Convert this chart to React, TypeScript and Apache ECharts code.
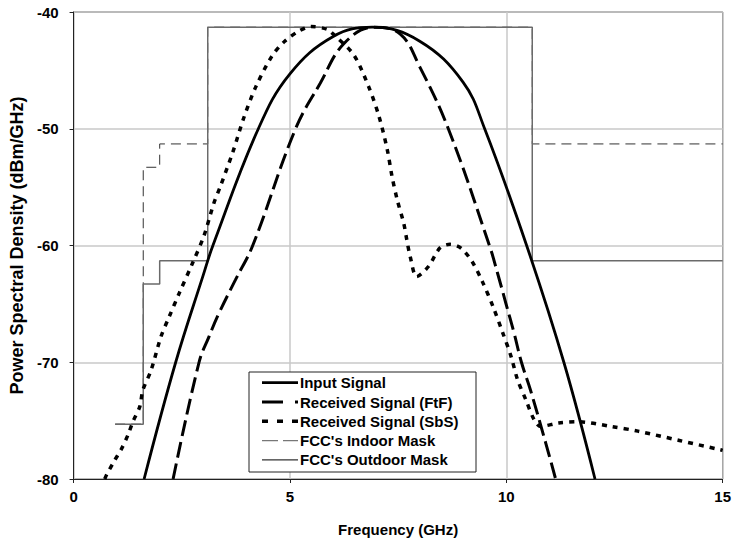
import React, { useEffect, useRef } from "react";
import * as echarts from "echarts";

const xTicks = [0, 5, 10, 15];
const yTicks = [-80, -70, -60, -50, -40];

const inputFreq = [1.63, 2.36, 3.0, 3.22, 4.27, 5.0, 6.0, 6.9, 8.0, 9.0, 9.5, 10.47, 11.33, 12.05];
const inputLevel = [-80, -70, -62.5, -60, -50, -45.3, -42.1, -41.3, -42.5, -46.0, -50, -60, -70, -80];

const ftfFreq = [2.3, 2.9, 3.13, 3.36, 3.74, 4.14, 5.13, 5.7, 6.25, 6.94, 7.55, 8.0, 8.66, 9.61, 9.8, 9.99, 10.18, 10.35, 10.56, 10.91, 11.14];
const ftfLevel = [-80, -70, -67.8, -65.8, -62.95, -60, -50, -46.1, -42.7, -41.3, -41.9, -44.7, -50, -60, -62.4, -64.95, -67.5, -70, -72.4, -76.9, -80];

const sbsFreq = [0.72, 0.76, 0.95, 1.11, 1.26, 1.37, 1.53, 1.6, 1.79, 2.02, 2.21, 2.44, 2.75, 3.01, 3.24, 3.39, 3.68, 3.93, 4.2, 4.58, 4.88, 5.22, 5.49, 5.87, 6.03, 6.48, 6.83, 7.06, 7.25, 7.36, 7.48, 7.63, 7.7, 7.78, 7.93, 8.2, 8.47, 8.7, 8.96, 9.23, 9.46, 9.69, 9.92, 10.11, 10.26, 10.45, 10.64, 10.79, 11.21, 11.67, 12.43, 13.04, 14.0, 14.95, 15];
const sbsLevel = [-80, -79.66, -78.4, -77.4, -76.2, -75.1, -73.8, -72.4, -70.7, -67.8, -66.1, -64.1, -61.5, -59.2, -56.4, -54.96, -52, -49.1, -46.5, -43.8, -42.5, -41.6, -41.25, -41.5, -42.0, -43.7, -46.5, -48.97, -51.8, -54.1, -56.1, -58.1, -59.5, -60.96, -62.67, -61.8, -60.2, -59.9, -60.24, -61.5, -63.2, -65.2, -67.5, -69.5, -71.5, -73.2, -74.9, -75.5, -75.2, -75.1, -75.5, -75.9, -76.7, -77.5, -77.55];

const indoorFreq = [0.96, 1.61, 1.61, 1.99, 1.99, 3.1, 3.1, 10.6, 10.6, 15];
const indoorLevel = [-75.3, -75.3, -53.3, -53.3, -51.3, -51.3, -41.3, -41.3, -51.3, -51.3];

const outdoorFreq = [0.96, 1.61, 1.61, 1.99, 1.99, 3.1, 3.1, 10.6, 10.6, 15];
const outdoorLevel = [-75.3, -75.3, -63.3, -63.3, -61.3, -61.3, -41.3, -41.3, -61.3, -61.3];

const seriesNames = [
  "Input Signal",
  "Received Signal (FtF)",
  "Received Signal (SbS)",
  "FCC's Indoor Mask",
  "FCC's Outdoor Mask",
];

const pairs = (xs: number[], ys: number[]) => xs.map((x, i) => [x, ys[i]]);

const FONT = "'Liberation Sans', Arial, sans-serif";

const STYLES = [
  { stroke: "#000", lineWidth: 2.8, plotDash: null as number[] | null, legendDash: null as number[] | null },
  { stroke: "#000", lineWidth: 3, plotDash: [16, 6], legendDash: [21, 12] },
  { stroke: "#000", lineWidth: 3.5, plotDash: [5, 6], legendDash: [6, 9] },
  { stroke: "#333", lineWidth: 1, plotDash: [10, 6], legendDash: [16, 5] },
  { stroke: "#6a6a6a", lineWidth: 1.5, plotDash: null, legendDash: null },
];

export default function App() {
  const ref = useRef<HTMLDivElement>(null);
  useEffect(() => {
    if (!ref.current) return;
    const chart = echarts.init(ref.current, undefined, { renderer: "svg" });

    const legendX = 249;
    const legendY = 372;
    const rowH = 19.3;
    const legendElems: any[] = [
      {
        type: "rect",
        shape: { x: legendX, y: legendY, width: 227, height: 100 },
        style: { fill: "#fff", stroke: "#222", lineWidth: 1 },
        z: 100,
      },
    ];
    seriesNames.forEach((name, i) => {
      const cy = legendY + 10.7 + i * rowH;
      const st = STYLES[i];
      legendElems.push({
        type: "line",
        shape: { x1: 262, y1: cy, x2: 298, y2: cy },
        style: {
          stroke: i === 3 ? "#777" : i === 4 ? "#333" : st.stroke,
          lineWidth: i >= 3 ? 1.2 : st.lineWidth,
          lineDash: st.legendDash || undefined,
        },
        z: 101,
      });
      legendElems.push({
        type: "text",
        x: 300,
        y: cy,
        style: {
          text: name,
          fill: "#000",
          font: `bold 15px ${FONT}`,
          verticalAlign: "middle",
          align: "left",
        },
        z: 101,
      });
    });

    const dataSets = [
      pairs(inputFreq, inputLevel),
      pairs(ftfFreq, ftfLevel),
      pairs(sbsFreq, sbsLevel),
      pairs(indoorFreq, indoorLevel),
      pairs(outdoorFreq, outdoorLevel),
    ];
    const smooths = [0.4, 0.4, 0.3, false, false];

    chart.setOption({
      animation: false,
      backgroundColor: "#ffffff",
      textStyle: { fontFamily: FONT },
      grid: {
        left: 70,
        right: 9,
        top: 12,
        bottom: 66,
        show: true,
        borderColor: "#222",
        borderWidth: 1,
        backgroundColor: "#ffffff",
      },
      xAxis: {
        type: "value",
        min: 0,
        max: 15,
        interval: 5,
        name: "Frequency (GHz)",
        nameLocation: "middle",
        nameGap: 43,
        nameTextStyle: { fontFamily: FONT, fontWeight: "bold", fontSize: 15, color: "#000" },
        axisLine: { show: true, lineStyle: { color: "#222", width: 1 } },
        axisTick: { show: true, length: 4, lineStyle: { color: "#222" } },
        axisLabel: {
          margin: 10,
          fontFamily: FONT,
          fontWeight: "bold",
          fontSize: 15,
          color: "#000",
          showMaxLabel: true,
          formatter: (v: number) => (xTicks.includes(v) ? String(v) : ""),
        },
        splitLine: { show: true, lineStyle: { color: "#c8c8c8", width: 1.5 } },
      },
      yAxis: {
        type: "value",
        min: -80,
        max: -40,
        interval: 10,
        name: "Power Spectral Density (dBm/GHz)",
        nameLocation: "middle",
        nameGap: 41,
        nameTextStyle: { fontFamily: FONT, fontWeight: "bold", fontSize: 18, color: "#000" },
        axisLine: { show: true, lineStyle: { color: "#222", width: 1 } },
        axisTick: { show: true, length: 4, lineStyle: { color: "#222" } },
        axisLabel: {
          margin: 15,
          fontFamily: FONT,
          fontWeight: "bold",
          fontSize: 15,
          color: "#000",
          formatter: (v: number) => (yTicks.includes(v) ? String(v) : ""),
        },
        splitLine: { show: true, lineStyle: { color: "#c8c8c8", width: 1.5 } },
      },
      graphic: legendElems,
      series: seriesNames.map((name, i) => ({
        name,
        type: "line",
        data: dataSets[i],
        symbol: "none",
        smooth: smooths[i],
        z: i < 3 ? 5 : 3,
        lineStyle: {
          color: STYLES[i].stroke,
          width: STYLES[i].lineWidth,
          type: STYLES[i].plotDash || "solid",
        },
        itemStyle: { color: STYLES[i].stroke },
      })),
    });
    return () => chart.dispose();
  }, []);
  return (
    <div
      ref={ref}
      style={{ position: "fixed", left: 0, top: 0, width: 734, height: 545 }}
    />
  );
}
